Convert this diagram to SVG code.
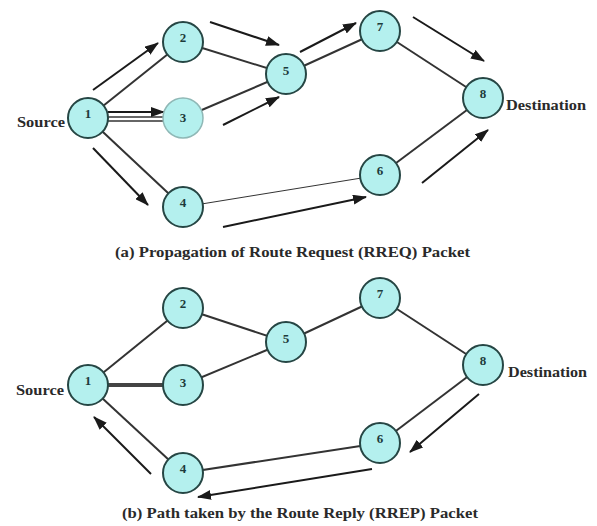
<svg xmlns="http://www.w3.org/2000/svg" width="597" height="526" viewBox="0 0 597 526">
<style>
.edge{stroke:#333;stroke-width:2;fill:none}
.thin{stroke:#333;stroke-width:1;fill:none}
.arr{stroke:#1a1a1a;stroke-width:2;fill:none;marker-end:url(#ah)}
.node circle{fill:#b4f0ee;stroke:#264644;stroke-width:2}
.node.faded circle{stroke:#8fb8b6;stroke-width:1.5}
.num{font-family:"Liberation Serif",serif;font-weight:bold;font-size:13px;fill:#1d3b3b;text-anchor:middle}
.lbl{font-family:"Liberation Serif",serif;font-weight:bold;font-size:15px;fill:#2a2a2a}
</style>
<defs>
<marker id="ah" markerUnits="userSpaceOnUse" markerWidth="14" markerHeight="10" refX="13" refY="5" orient="auto">
<path d="M0,0 L14,5 L0,10 Z" fill="#1a1a1a"/>
</marker>
</defs>
<rect width="597" height="526" fill="#fff"/>

<g id="connectors">
<!-- (a) edges -->
<line class="edge" x1="88" y1="118" x2="183" y2="42"/>
<line class="thin" x1="100" y1="117" x2="170" y2="117" style="stroke-width:1.5"/>
<line class="thin" x1="100" y1="121" x2="170" y2="121" style="stroke-width:1.5"/>
<line class="edge" x1="88" y1="118" x2="183" y2="207"/>
<line class="edge" x1="183" y1="42" x2="286" y2="74"/>
<line class="edge" x1="183" y1="118" x2="286" y2="74"/>
<line class="edge" x1="286" y1="74" x2="380" y2="31"/>
<line class="edge" x1="380" y1="31" x2="483" y2="98"/>
<line class="thin" x1="183" y1="207" x2="380" y2="175"/>
<line class="edge" x1="380" y1="175" x2="483" y2="98"/>
<!-- (a) arrows -->
<line class="arr" x1="93" y1="90" x2="158" y2="43"/>
<line class="arr" x1="210" y1="22" x2="279" y2="45"/>
<line class="arr" x1="108" y1="112" x2="164" y2="112"/>
<line class="arr" x1="223" y1="125" x2="279" y2="97"/>
<line class="arr" x1="93" y1="148" x2="148" y2="205"/>
<line class="arr" x1="223" y1="227" x2="366" y2="197"/>
<line class="arr" x1="300" y1="52" x2="356" y2="23"/>
<line class="arr" x1="413" y1="17" x2="484" y2="61"/>
<line class="arr" x1="422" y1="183" x2="488" y2="130"/>
<!-- (b) edges -->
<line class="edge" x1="88" y1="385" x2="183" y2="308"/>
<line class="edge" x1="88" y1="385" x2="183" y2="385" style="stroke-width:4;stroke:#444"/>
<line class="edge" x1="88" y1="385" x2="183" y2="473"/>
<line class="edge" x1="183" y1="308" x2="286" y2="342"/>
<line class="edge" x1="183" y1="385" x2="286" y2="342"/>
<line class="edge" x1="286" y1="342" x2="380" y2="298"/>
<line class="edge" x1="380" y1="298" x2="483" y2="365"/>
<line class="edge" x1="483" y1="365" x2="380" y2="443"/>
<line class="edge" x1="380" y1="443" x2="183" y2="473"/>
<!-- (b) arrows -->
<line class="arr" x1="479" y1="394" x2="410" y2="452"/>
<line class="arr" x1="372" y1="469" x2="198" y2="497"/>
<line class="arr" x1="151" y1="474" x2="94" y2="417"/>
</g>

<g id="a-node1" class="node"><circle cx="88" cy="118" r="20"/><text class="num" x="88" y="118">1</text></g>
<g id="a-node2" class="node"><circle cx="183" cy="42" r="20"/><text class="num" x="183" y="42">2</text></g>
<g id="a-node3" class="node faded"><circle cx="183" cy="118" r="20"/><text class="num" x="183" y="122">3</text></g>
<g id="a-node4" class="node"><circle cx="183" cy="207" r="20"/><text class="num" x="183" y="207">4</text></g>
<g id="a-node5" class="node"><circle cx="286" cy="74" r="20"/><text class="num" x="286" y="75">5</text></g>
<g id="a-node6" class="node"><circle cx="380" cy="175" r="20"/><text class="num" x="380" y="175">6</text></g>
<g id="a-node7" class="node"><circle cx="380" cy="31" r="20"/><text class="num" x="380" y="31">7</text></g>
<g id="a-node8" class="node"><circle cx="483" cy="98" r="20"/><text class="num" x="483" y="98">8</text></g>

<g id="b-node1" class="node"><circle cx="88" cy="385" r="20"/><text class="num" x="88" y="385">1</text></g>
<g id="b-node2" class="node"><circle cx="183" cy="308" r="20"/><text class="num" x="183" y="308">2</text></g>
<g id="b-node3" class="node"><circle cx="183" cy="385" r="20"/><text class="num" x="183" y="387">3</text></g>
<g id="b-node4" class="node"><circle cx="183" cy="473" r="20"/><text class="num" x="183" y="473">4</text></g>
<g id="b-node5" class="node"><circle cx="286" cy="342" r="20"/><text class="num" x="286" y="343">5</text></g>
<g id="b-node6" class="node"><circle cx="380" cy="443" r="20"/><text class="num" x="380" y="443">6</text></g>
<g id="b-node7" class="node"><circle cx="380" cy="298" r="20"/><text class="num" x="380" y="298">7</text></g>
<g id="b-node8" class="node"><circle cx="483" cy="365" r="20"/><text class="num" x="483" y="365">8</text></g>

<g id="labels">
<text class="lbl" x="17" y="127" textLength="48" lengthAdjust="spacingAndGlyphs">Source</text>
<text class="lbl" x="506" y="110" textLength="80" lengthAdjust="spacingAndGlyphs">Destination</text>
<text class="lbl" x="16" y="395" textLength="48" lengthAdjust="spacingAndGlyphs">Source</text>
<text class="lbl" x="508" y="377" textLength="79" lengthAdjust="spacingAndGlyphs">Destination</text>
<text class="lbl" x="115" y="257" textLength="355" lengthAdjust="spacingAndGlyphs">(a) Propagation of Route Request (RREQ) Packet</text>
<text class="lbl" x="122" y="518" textLength="356" lengthAdjust="spacingAndGlyphs">(b) Path taken by the Route Reply (RREP) Packet</text>
</g>
</svg>
